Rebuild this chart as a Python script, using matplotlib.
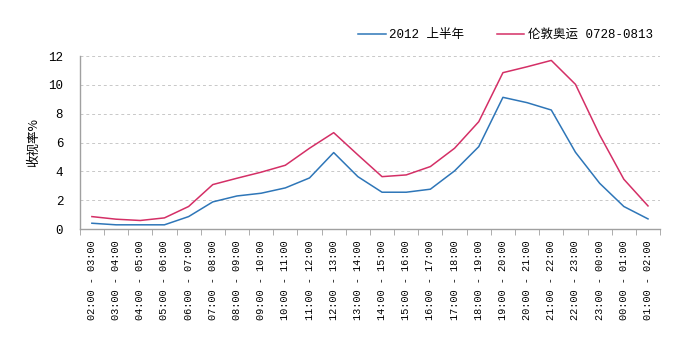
import matplotlib
matplotlib.use("Agg")
import matplotlib.pyplot as plt
import numpy as np

plt.rcParams["font.family"] = ["Liberation Mono", "Noto Sans CJK SC", "DejaVu Sans"]

HOURS = ["02", "03", "04", "05", "06", "07", "08", "09", "10", "11", "12", "13",
         "14", "15", "16", "17", "18", "19", "20", "21", "22", "23", "00", "01", "02"]
SLOTS = [f"{HOURS[i]}:00 - {HOURS[i + 1]}:00" for i in range(24)]

H1_2012 = [0.41, 0.30, 0.30, 0.30, 0.87, 1.89, 2.30, 2.49, 2.86, 3.55, 5.31, 3.64,
           2.56, 2.56, 2.77, 4.04, 5.72, 9.14, 8.77, 8.26, 5.33, 3.18, 1.57, 0.71]
OLYMPICS = [0.87, 0.69, 0.60, 0.78, 1.57, 3.09, 3.53, 3.95, 4.43, 5.61, 6.69, 5.15,
            3.64, 3.76, 4.34, 5.61, 7.45, 10.85, 11.26, 11.70, 10.04, 6.53, 3.46, 1.61]

fig = plt.figure(figsize=(7.0, 3.42), dpi=100)
ax = fig.add_axes([0.114, 0.330, 0.829, 0.506])

x = np.arange(len(SLOTS))
ax.plot(x, H1_2012, color="#2e76b8", linewidth=1.1, label="2012 上半年")
ax.plot(x, OLYMPICS, color="#d42f66", linewidth=1.1, label="伦敦奥运 0728-0813")

ax.set_xlim(-0.5, len(SLOTS) - 0.5)
ax.set_ylim(0, 12)
ax.set_yticks(range(0, 13, 2))
ax.yaxis.grid(True, linestyle=(0, (3, 3)), color="#c8c8c8", linewidth=0.7)
ax.set_axisbelow(True)

ax.set_xticks(x)
ax.set_xticklabels(SLOTS, rotation=90, fontsize=7.4)
ax.set_xticks(np.arange(-0.5, len(SLOTS)), minor=True)
ax.tick_params(axis="x", which="major", length=0, pad=8)
ax.tick_params(axis="x", which="minor", length=4, color="#a0a0a0")
ax.tick_params(axis="y", length=0, labelsize=9, pad=12)

for side in ["top", "right"]:
    ax.spines[side].set_visible(False)
for side in ["left", "bottom"]:
    ax.spines[side].set_color("#a0a0a0")
    ax.spines[side].set_linewidth(1.0)

ax.set_ylabel("收视率%", fontsize=9, labelpad=6, family=["Noto Sans CJK SC"])

fig.legend(loc="center right", bbox_to_anchor=(0.94, 0.898), ncol=2, frameon=False,
           fontsize=9, handlelength=2.2, columnspacing=2.6, handletextpad=0.3,
           borderaxespad=0)

fig.savefig("out.png", dpi=100)
